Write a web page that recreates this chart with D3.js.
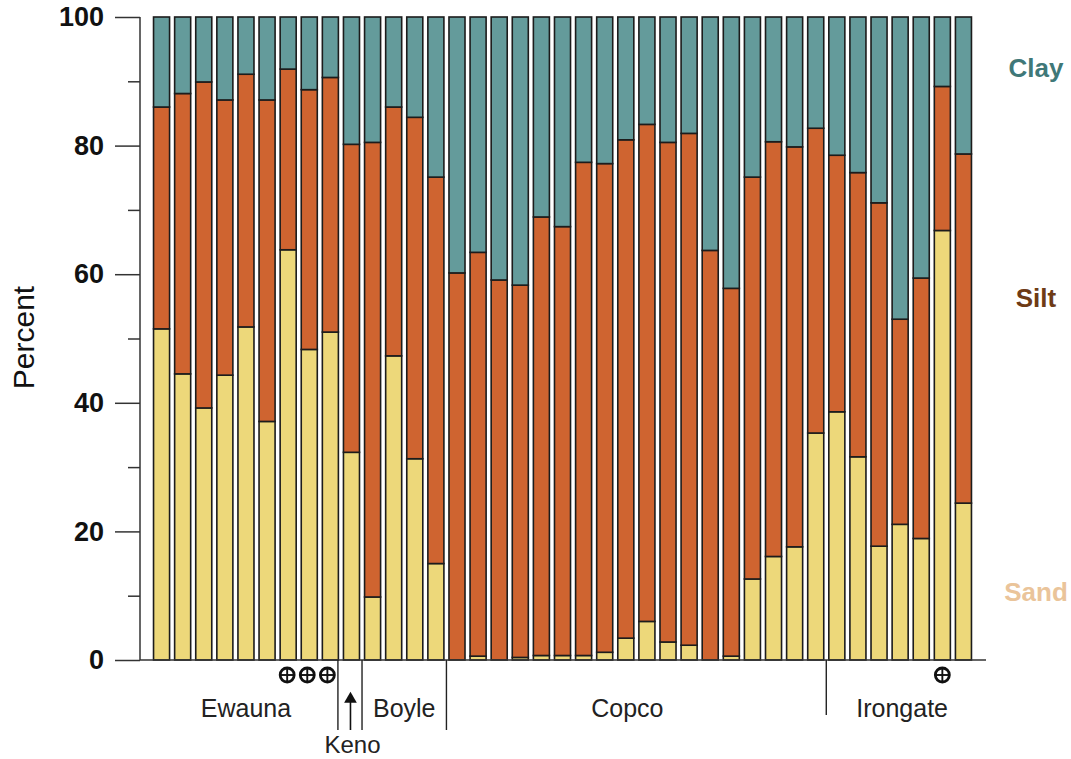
<!DOCTYPE html>
<html>
<head>
<meta charset="utf-8">
<script src="https://cdn.jsdelivr.net/npm/d3@7"></script>
<style>
  body { margin: 0; background: #fff; }
  text { font-family: "Liberation Sans", Arial, sans-serif; }
</style>
</head>
<body>
<div class="grain-chart"></div>
<script>
// percentages per sample, left to right
var sand = [51.5, 44.5, 39.2, 44.3, 51.8, 37.1, 63.8, 48.3, 51.0,
            32.3,
            9.8, 47.3, 31.3, 15.0,
            0.0, 0.6, 0.0, 0.4, 0.7, 0.7, 0.7, 1.2, 3.4, 6.0, 2.8, 2.3, 0.0, 0.6, 12.6, 16.1, 17.6, 35.3,
            38.6, 31.6, 17.7, 21.1, 18.9, 66.8, 24.4];
var silt = [34.5, 43.6, 50.7, 42.8, 39.3, 50.0, 28.1, 40.4, 39.6,
            47.9,
            70.7, 38.7, 53.1, 60.1,
            60.2, 62.8, 59.1, 57.9, 68.2, 66.7, 76.7, 76.0, 77.5, 77.3, 77.7, 79.6, 63.7, 57.2, 62.5, 64.5, 62.2, 47.4,
            39.9, 44.2, 53.4, 31.9, 40.5, 22.4, 54.3];
var clay = [14.0, 11.9, 10.1, 12.9, 8.9, 12.9, 8.1, 11.3, 9.4,
            19.8,
            19.5, 14.0, 15.6, 24.9,
            39.8, 36.6, 40.9, 41.7, 31.1, 32.6, 22.6, 22.8, 19.1, 16.7, 19.5, 18.1, 36.3, 42.2, 24.9, 19.4, 20.2, 17.3,
            21.5, 24.2, 28.9, 47.0, 40.6, 10.8, 21.3];

var reaches = ["Ewauna", "Keno", "Boyle", "Copco", "Irongate"];
var reachSize = [9, 1, 4, 18, 7];
var markedSamples = [6, 7, 8, 37];   // samples flagged with the crossed circle
var yTicks = [0, 20, 40, 60, 80, 100];

var layers = ["sand", "silt", "clay"];
var layerNames = {sand: "Sand", silt: "Silt", clay: "Clay"};
var fill = {sand: "#EDD87A", silt: "#CF6430", clay: "#649B9B"};
var labelColor = {sand: "#EAC49A", silt: "#6E3B16", clay: "#3F7878"};

var width = 1071, height = 759;

var rows = sand.map(function(d, i) {
  return {id: i, sand: d, silt: silt[i], clay: clay[i]};
});

var x = d3.scaleBand()
    .domain(d3.range(rows.length))
    .range([151, 974])
    .paddingInner(0.24)
    .paddingOuter(0.12);

var y = d3.scaleLinear()
    .domain([0, 100])
    .range([660, 17]);

var svg = d3.select(".grain-chart").append("svg")
    .attr("width", width)
    .attr("height", height);

var stack = d3.stack().keys(layers);
var series = stack(rows);

svg.append("g").selectAll("g")
    .data(series)
  .enter().append("g")
    .attr("fill", function(d) { return fill[d.key]; })
  .selectAll("rect")
    .data(function(d) { return d; })
  .enter().append("rect")
    .attr("x", function(d) { return x(d.data.id); })
    .attr("y", function(d) { return y(d[1]); })
    .attr("width", x.bandwidth())
    .attr("height", function(d) { return y(d[0]) - y(d[1]); })
    .attr("stroke", "#1c1c1c")
    .attr("stroke-width", 1.6);

// y axis
var yAxis = d3.axisLeft(y)
    .tickValues(yTicks)
    .tickSize(25)
    .tickPadding(11);

var ya = svg.append("g")
    .attr("transform", "translate(140,0)")
    .call(yAxis);
ya.select(".domain").remove();
ya.selectAll("line").attr("stroke", "#333").attr("stroke-width", 1.5);
ya.selectAll("text")
    .attr("font-size", 27)
    .attr("font-weight", "bold")
    .attr("fill", "#111")
    .attr("font-family", "Liberation Sans, Arial, sans-serif");

var minor = d3.axisLeft(y)
    .tickValues([10, 30, 50, 70, 90])
    .tickSize(12)
    .tickFormat("");
var ym = svg.append("g")
    .attr("transform", "translate(140,0)")
    .call(minor);
ym.select(".domain").remove();
ym.selectAll("line").attr("stroke", "#333").attr("stroke-width", 1.5);

svg.append("line")
    .attr("x1", 140).attr("x2", 140)
    .attr("y1", y(100)).attr("y2", y(0))
    .attr("stroke", "#333").attr("stroke-width", 1.5);

svg.append("line")
    .attr("x1", 140).attr("x2", 986)
    .attr("y1", y(0)).attr("y2", y(0))
    .attr("stroke", "#333").attr("stroke-width", 1.5);

svg.append("text")
    .attr("transform", "translate(34," + (y(50) - 1) + ") rotate(-90)")
    .attr("text-anchor", "middle")
    .attr("font-size", 30)
    .attr("fill", "#111")
    .text("Percent");

// reach separators and labels
var step = x.step();
var gap = step - x.bandwidth();
var starts = [0];
reachSize.forEach(function(n, i) { starts.push(starts[i] + n); });

function edge(i) {
  if (i >= rows.length) return x(rows.length - 1) + x.bandwidth() + gap / 2;
  return x(i) - gap / 2;
}

var sepBottom = [730, 730, 730, 715];
for (var i = 1; i < reaches.length; i++) {
  var sx = edge(starts[i]) - (i == 1 ? 3 : 0);
  svg.append("line")
      .attr("x1", sx).attr("x2", sx)
      .attr("y1", y(0)).attr("y2", sepBottom[i - 1])
      .attr("stroke", "#222").attr("stroke-width", 1.4);
}

var labelNudge = {Copco: -9, Irongate: 2};
reaches.forEach(function(name, i) {
  var cx = (edge(starts[i]) + edge(starts[i + 1])) / 2;
  if (name == "Keno") {
    cx = x(starts[i]) + x.bandwidth() / 2;
    svg.append("line")
        .attr("x1", cx - 1).attr("x2", cx - 1)
        .attr("y1", 700).attr("y2", 730)
        .attr("stroke", "#111").attr("stroke-width", 1.6);
    svg.append("path")
        .attr("d", d3.symbol().type(d3.symbolTriangle).size(70)())
        .attr("transform", "translate(" + (cx - 1) + ",699)")
        .attr("fill", "#111");
    svg.append("text")
        .attr("x", cx + 1).attr("y", 753)
        .attr("text-anchor", "middle")
        .attr("font-size", 24)
        .attr("fill", "#222")
        .text(name);
  } else {
    svg.append("text")
        .attr("x", cx + (labelNudge[name] || 0)).attr("y", 717)
        .attr("text-anchor", "middle")
        .attr("font-size", 25)
        .attr("fill", "#222")
        .text(name);
  }
});

// crossed circle markers
markedSamples.forEach(function(i, k) {
  var cx = x(i) + x.bandwidth() / 2 - (k < 3 ? k + 1 : 0);
  var cy = 675;
  var g = svg.append("g").attr("transform", "translate(" + cx + "," + cy + ")");
  g.append("circle").attr("r", 7).attr("fill", "#fff")
      .attr("stroke", "#111").attr("stroke-width", 2.8);
  g.append("line").attr("x1", -7).attr("x2", 7).attr("stroke", "#111").attr("stroke-width", 1.9);
  g.append("line").attr("y1", -7).attr("y2", 7).attr("stroke", "#111").attr("stroke-width", 1.9);
});

// layer labels on the right
var labelY = {clay: 68, silt: 298, sand: 592};
layers.forEach(function(k) {
  svg.append("text")
      .attr("x", 1036).attr("y", labelY[k])
      .attr("dy", ".35em")
      .attr("text-anchor", "middle")
      .attr("font-size", 26)
      .attr("font-weight", "bold")
      .attr("fill", labelColor[k])
      .text(layerNames[k]);
});
</script>
</body>
</html>
